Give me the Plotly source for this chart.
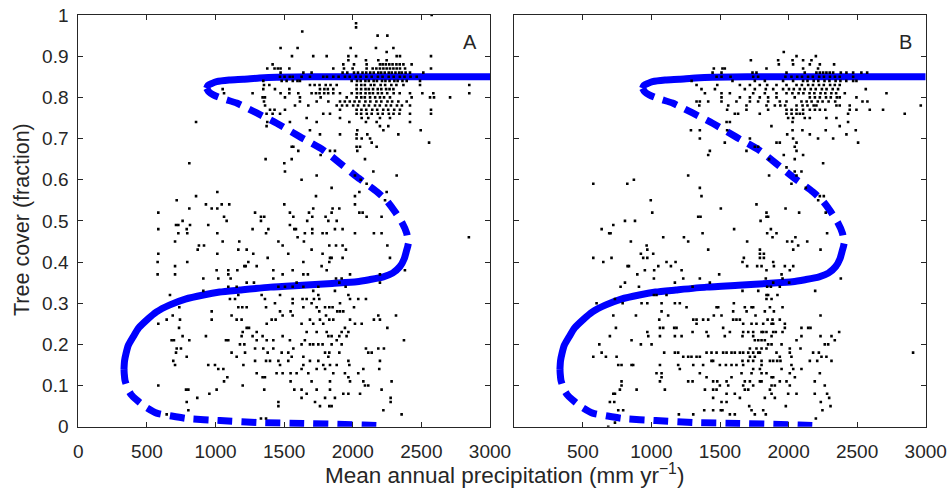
import plotly.graph_objects as go

# ---------------- model curve ----------------
# upper stable branch (forest), from the fold to the right edge
hi_stable_p = [935, 945, 975, 1008, 1100, 1203, 1320, 1446, 1700, 2000, 2500, 3000]
hi_stable_t = [0.822, 0.829, 0.834, 0.838, 0.842, 0.844, 0.847, 0.849, 0.850, 0.850, 0.850, 0.850]
# unstable branch between forest and savanna
mid_unstable_p = [935, 950, 984, 1060, 1154, 1300, 1446, 1616, 1785, 1907, 2029, 2175, 2250, 2308, 2360, 2393, 2405]
mid_unstable_t = [0.822, 0.814, 0.806, 0.796, 0.786, 0.762, 0.737, 0.704, 0.672, 0.640, 0.607, 0.571, 0.548, 0.522, 0.495, 0.470, 0.445]
# savanna stable branch
sav_stable_p = [2405, 2400, 2393, 2375, 2344, 2290, 2223, 2120, 2029, 1850, 1664, 1400, 1178, 1030, 911, 780, 668, 570, 498, 440, 401, 365, 348, 337, 333]
sav_stable_t = [0.445, 0.437, 0.429, 0.408, 0.389, 0.373, 0.364, 0.357, 0.352, 0.348, 0.344, 0.339, 0.332, 0.327, 0.320, 0.310, 0.296, 0.279, 0.259, 0.240, 0.219, 0.198, 0.178, 0.160, 0.140]
# lower unstable branch
low_unstable_p = [333, 335, 340, 360, 385, 425, 490, 571, 680, 790, 1033, 1324, 1640, 2077, 2220]
low_unstable_t = [0.140, 0.128, 0.113, 0.092, 0.078, 0.065, 0.048, 0.033, 0.026, 0.020, 0.015, 0.010, 0.008, 0.004, 0.002]

# ---------------- observations, panel A: (tree cover, [precipitation ...]) ----------------
a_high = [
    (1.00, [2575]), (0.98, [2024]), (0.97, [2024]), (0.96, [1632]), (0.95, [2181, 2252]),
    (0.92, [1474, 1598, 1985, 2169, 2296]), (0.91, [2247]),
    (0.90, [1557, 1712, 1810, 1968, 2024, 2320, 2344, 2570]),
    (0.89, [1968, 2096, 2186, 2247]),
    (0.88, [1416, 1931, 2009, 2101, 2198, 2218, 2241, 2266, 2290, 2318, 2342, 2369, 2429]),
    (0.87, [1377, 1430, 1454, 1474, 1538, 1858, 1936, 1999, 2101, 2145, 2172, 2198, 2223, 2247, 2271, 2296, 2320, 2344, 2381, 2570]),
    (0.86, [1474, 1640, 1700, 1926, 1960, 2009, 2038, 2071, 2098, 2127, 2153, 2186, 2207, 2233, 2262, 2284, 2311, 2338, 2357, 2385, 2417, 2514]),
    (0.85, [1470, 1503, 1541, 1562, 1627, 1688, 1785, 1812, 1858, 1897, 1943, 1978, 2022, 2057, 2099, 2138, 2183, 2217, 2262, 2298, 2343, 2377, 2421, 2466]),
    (0.84, [1348, 1482, 1518, 1563, 1597, 1615, 1992, 2031, 2058, 2092, 2117, 2152, 2176, 2213, 2238, 2268, 2303, 2327, 2362, 2393, 2490]),
    (0.83, [1353, 1392, 1688, 1722, 1758, 1803, 1838, 1883, 2028, 2062, 2088, 2131, 2157, 2203, 2236, 2281, 2318, 2369, 2490, 2849]),
    (0.82, [1052, 1348, 1433, 1538, 1761, 1793, 1818, 1858, 2028, 2061, 2093, 2117, 2148, 2182, 2208, 2243, 2268, 2296]),
    (0.81, [1062, 1270, 1474, 1538, 1603, 1700, 1732, 1758, 1792, 1821, 1858, 1907, 1992, 2031, 2058, 2093, 2122, 2147, 2183, 2212, 2251, 2298, 2342, 2417, 2507, 2587, 2849]),
    (0.80, [1343, 1360, 1506, 1615, 1766, 1956, 2028, 2062, 2088, 2126, 2163, 2198, 2228, 2271, 2429, 2563, 2592, 2709]),
    (0.79, [1353, 1615, 1737, 1822, 1907, 1942, 1978, 2013, 2048, 2092, 2128, 2172, 2208, 2253, 2287, 2332, 2393]),
    (0.78, [1361, 1579, 1676, 1883, 1922, 1958, 2003, 2038, 2083, 2118, 2162, 2197, 2243, 2278, 2322, 2358, 2417]),
    (0.77, [1397, 1430, 1506, 1907, 2028, 2063, 2098, 2142, 2178, 2222, 2258, 2302, 2344, 2570]),
    (0.76, [1372, 1416, 1470, 1785, 1834, 2028, 2061, 2102, 2138, 2183, 2218, 2263, 2297, 2340, 2417, 2570]),
    (0.75, [1664, 1907, 2065, 2113, 2198, 2271]),
    (0.74, [858, 1377, 1542, 1737, 1975, 2096, 2174, 2417]),
    (0.73, [1372, 2198, 2259]), (0.72, [1688, 2033, 2223, 2495]),
    (0.71, [1761, 1907, 2028, 2106, 2332]), (0.70, [2028, 2065, 2126]),
    (0.69, [2138, 2556]), (0.68, [1555, 1567, 2028, 2053, 2174]),
    (0.67, [1603, 1834, 1870, 2033]), (0.66, [1766]), (0.65, [1365, 1555, 2089]),
    (0.64, [809, 1501]), (0.62, [1506, 2150]), (0.61, [1737, 2016, 2320]),
    (0.60, [1627, 2058]), (0.59, [2101]), (0.58, [1846]), (0.56, [2016]),
]
a_low = [
    (0.57, [1013, 2048, 2247]), (0.56, [858, 1732]), (0.55, [717, 2235]),
    (0.54, [930, 1045, 1100, 1501, 2016]), (0.53, [809, 972, 1013, 1712, 1853, 1902]),
    (0.52, [583, 1288, 1542, 1681, 1846, 2048, 2072]),
    (0.51, [1062, 1331, 1355, 1567, 1705, 1802, 2101, 2210]),
    (0.50, [760, 1081, 1331, 1668, 1822, 1883]), (0.49, [712, 729, 814, 947, 1542]),
    (0.48, [583, 790, 1270, 1385, 1574, 1586, 1705, 1870, 1926]),
    (0.47, [729, 794, 1013, 1368, 1651, 1705, 1780, 1810, 2016, 2154, 2210]),
    (0.46, [1598, 2846]), (0.45, [705, 1052, 1173, 1458, 1644]),
    (0.44, [879, 916, 1489, 1829, 1878, 1926, 2252]), (0.43, [870, 1166, 1227, 1700, 1950]),
    (0.42, [583, 1013, 1275, 1530, 1780]), (0.41, [1380, 1834, 1846, 1926, 2271]),
    (0.40, [578, 794, 1239, 1640, 1829]), (0.39, [705, 1210, 1220, 1300, 1773]),
    (0.38, [1008, 1093, 1159, 1421, 1562, 1810, 2380]),
    (0.37, [578, 705, 1093, 1489, 1640, 1673, 1980, 2198]),
    (0.36, [911, 1020, 1110, 1421, 1878, 1919]), (0.35, [1227, 1280, 1591, 1902, 2198]),
    (0.34, [1093, 1154, 1458, 1506, 1562, 1640, 1749, 1948]), (0.33, [911, 1712, 1870]),
    (0.32, [668, 1166, 1336, 1470, 1749, 1968]),
    (0.31, [1105, 1142, 1360, 1562, 1634, 1664, 1717, 1756, 1980, 2040, 2096]),
    (0.30, [1433, 1562, 1700, 1907]),
    (0.29, [736, 1166, 1195, 1227, 1368, 1640, 1737, 1798, 1829, 1853, 2009]),
    (0.28, [972, 1470, 1547, 1756, 1887, 1907, 1931]),
    (0.27, [688, 1117, 1489, 1562, 1805, 2186, 2315]),
    (0.26, [644, 741, 972, 1154, 1190, 1409, 1438, 1688, 1761, 1829, 1858, 1980, 2154, 2198]),
    (0.25, [583, 1373, 1627, 1712, 1785, 2016, 2065]), (0.24, [734, 1227, 1244, 1943, 2252]),
    (0.23, [1198, 1300, 1664, 1737, 1810, 1919, 1968]),
    (0.22, [760, 930, 1190, 1270, 1343, 1489, 1822, 1846, 1902, 1955]),
    (0.21, [680, 697, 809, 1076, 1093, 1300, 1373, 1421, 1542, 1651, 1883, 2373]),
    (0.20, [1178, 1210, 1627, 1688, 1712, 1749, 1780, 1846, 1919]),
    (0.19, [717, 748, 1288, 1348, 1421, 1567, 2096, 2186, 2227]),
    (0.18, [712, 1117, 1215, 1380, 1482, 1530, 1798, 1829, 1902, 2113, 2138]),
    (0.17, [790, 1154, 1555, 1640, 1822]),
    (0.16, [692, 1288, 1368, 1397, 1458, 1530, 1688, 1749, 1968, 2198]),
    (0.15, [705, 947, 996, 1203, 1470, 1640, 1785, 1834, 1883, 1975]),
    (0.14, [1020, 1057, 1627, 1737, 1798, 2077, 2193]),
    (0.13, [1300, 1445, 1489, 1547, 1591, 1676, 1858, 1943, 2040]),
    (0.12, [1086, 1343, 1360, 1968]), (0.11, [1062, 1547, 1700, 1834, 1980, 2077, 2283]),
    (0.10, [583, 1198, 2089, 2113]),
    (0.09, [785, 802, 1008, 1355, 1574, 1627, 1737, 1834, 2210]),
    (0.08, [955, 1664, 1931, 1968, 2053]), (0.07, [867, 1627, 1798, 1870, 2276]),
    (0.06, [790, 1458, 1725, 2276]), (0.05, [1458, 1761, 1829, 1846]),
    (0.04, [802, 2223]), (0.03, [644, 2356]), (0.02, [1331, 1368]),
]

# ---------------- observations, panel B ----------------
b_high = [
    (0.91, [1965]), (0.90, [2058, 2199]), (0.89, [1725, 1924, 2029, 2106, 2167]),
    (0.88, [1929, 2033, 2155, 2228, 2332]), (0.87, [1455, 1518, 1535, 1839, 2106, 2215]),
    (0.86, [1446, 1511, 1737, 1766, 1985, 2118, 2203, 2228, 2252, 2276, 2300, 2325, 2381, 2422, 2471, 2531, 2573]),
    (0.85, [1475, 1511, 1577, 1742, 1778, 1977, 2021, 2063, 2098, 2142, 2177, 2223, 2258, 2302, 2338, 2373, 2471]),
    (0.84, [1293, 1591, 1754, 1827, 1960, 2033, 2106, 2138, 2183, 2217, 2262, 2298, 2343, 2378, 2421, 2471, 2495]),
    (0.83, [1329, 1480, 1645, 1718, 1790, 1844, 1912, 1985, 2058, 2097, 2143, 2178, 2222, 2257, 2303, 2337, 2373]),
    (0.82, [1365, 1463, 1681, 1754, 1834, 1888, 1960, 2003, 2038, 2082, 2117, 2162, 2198, 2243, 2277, 2322, 2361, 2563]),
    (0.81, [1390, 1511, 1572, 1742, 1827, 1912, 1985, 2028, 2073, 2108, 2153, 2188, 2233, 2268, 2312, 2347, 2410, 2714]),
    (0.80, [1511, 1645, 1718, 1790, 1851, 1912, 2045, 2155, 2192, 2228, 2273, 2308, 2352, 2373, 2495]),
    (0.79, [1329, 1353, 1414, 1511, 1620, 1718, 1778, 1851, 1936, 1985, 2094, 2132, 2168, 2213, 2248, 2292, 2340, 2539, 2575]),
    (0.78, [1349, 1560, 1693, 1839, 1900, 1940, 1975, 2058, 2102, 2138, 2183, 2203, 2349, 2373, 2446, 2964]),
    (0.77, [1552, 1693, 1851, 1985, 2022, 2058, 2106, 2155, 2192, 2228, 2268, 2446, 2495, 2592, 2689]),
    (0.76, [1608, 1632, 1790, 1985, 2022, 2058, 2082, 2106, 2434, 2847]),
    (0.75, [1997, 2033, 2118, 2155, 2276, 2349]), (0.74, [1548, 1572, 2029, 2434]),
    (0.73, [1875, 2373]), (0.72, [1288, 1353, 1552, 2029, 2101, 2271, 2490]),
    (0.71, [1990, 2155, 2422]), (0.70, [1353, 1718, 2033, 2215, 2325]),
    (0.69, [1535, 1912, 1936, 2058, 2507]), (0.68, [1754, 1778, 2045]),
    (0.67, [1426, 1693, 2058]), (0.66, [1414, 1965, 2106]), (0.65, [1858, 2045]),
    (0.64, [2252]), (0.63, [1985]), (0.62, [2045, 2094]), (0.61, [1268, 1858, 2058]),
    (0.60, [872]), (0.59, [576, 824, 2021]), (0.58, [1353, 2126]),
]
b_low = [
    (0.56, [1365, 2228, 2257]), (0.55, [995, 2216]), (0.54, [1766]), (0.53, [1506, 1978]),
    (0.52, [1006, 1839, 2077, 2271]), (0.51, [1341, 1358, 1839, 1851]), (0.50, [807, 880, 1796]),
    (0.49, [722]), (0.48, [637, 1603, 1871]), (0.47, [692, 702, 1373, 1844, 1912, 2281]),
    (0.46, [1086, 1237, 1883, 2050]), (0.45, [850, 1268, 1698, 1990, 2026, 2136]),
    (0.44, [965, 2070]), (0.43, [970, 1414, 1791, 2034, 2233]), (0.42, [923, 1013, 1791, 1820]),
    (0.41, [576, 709, 940, 970, 1674, 1791, 1820]), (0.40, [649, 1110, 1176, 1664, 1888]),
    (0.39, [826, 836, 1050, 1142, 1698, 1771, 1803, 1893, 1973, 2034]),
    (0.38, [952, 1020, 1220, 1839, 2009]), (0.37, [897, 1494, 1949]),
    (0.36, [1018, 1232, 1353, 1834, 1956, 2381]), (0.35, [807, 1171, 1426, 1888, 2004]),
    (0.34, [775, 909, 1300, 1844, 1871, 1936]), (0.33, [1664, 1779, 2194]),
    (0.32, [1018, 1037, 1110, 1839, 1851, 1919]), (0.31, [734, 1839, 1876]),
    (0.30, [600, 790, 928, 970, 1074, 1171, 1207, 1601]),
    (0.29, [1256, 1475, 1487, 1681, 1730, 1742, 1864, 1956]),
    (0.28, [1074, 1596, 1694, 1827, 1893]), (0.27, [722, 887, 1122, 1455, 1511, 1759, 2233]),
    (0.26, [1057, 1305, 1329, 1377, 1414, 1596, 1620, 1645, 1847, 1883, 1936]),
    (0.25, [1329, 1669, 1730, 1766, 1815, 1876, 1888, 1973]),
    (0.24, [741, 1062, 1086, 1166, 1183, 1523, 1973, 2094, 2143, 2160]),
    (0.23, [970, 1300, 1402, 1572, 1669, 1706, 1742, 1803, 1815, 1839, 1888, 1907, 1956, 2369]),
    (0.22, [697, 977, 1062, 1171, 1220, 1414, 1535, 1664, 1742, 1876, 2094, 2233, 2313]),
    (0.21, [855, 1754, 1779, 1803, 1827, 2058, 2337]),
    (0.20, [620, 923, 1001, 1851, 1876, 1949, 2264, 2289]),
    (0.19, [1718, 1766, 1803, 1839, 2009, 2087]),
    (0.18, [637, 1093, 1171, 1195, 1402, 1438, 1475, 1523, 1548, 1584, 1608, 1645, 1669, 1706, 1742, 1779, 1791, 1912, 2009, 2179, 2221, 2908]),
    (0.17, [576, 668, 746, 1232, 1268, 1292, 1329, 1353, 1718, 1754, 1936, 2021, 2240, 2276]),
    (0.16, [1438, 1450, 1664, 1706, 1742, 1803, 1864, 1888, 1917, 1941, 2155, 2209, 2313]),
    (0.15, [758, 782, 855, 867, 1062, 1195, 1305, 1377, 1499, 1543, 1584, 1620, 1669, 1803, 2021]),
    (0.14, [1207, 1742, 1791, 1949, 2034, 2094]),
    (0.13, [1037, 1074, 1353, 1657, 1730, 1803, 1839, 2009, 2228]),
    (0.12, [1074, 1402, 1584, 1876, 1888, 2046]),
    (0.11, [782, 1062, 1268, 1300, 1450, 1480, 1548, 1681, 1718, 1791, 1803, 1936, 1985, 2191]),
    (0.10, [782, 1499, 1560, 1669, 1742, 1876, 1900, 2009, 2264]),
    (0.09, [770, 892, 1098, 1390, 1450, 1475, 1681, 1706, 1864]),
    (0.08, [722, 734, 1548, 1608, 1876, 1997, 2058, 2191, 2281]),
    (0.07, [1450, 1645, 1827, 1900, 2296]), (0.06, [697, 729, 1511, 1548, 2235]),
    (0.05, [1713, 1980, 2306]), (0.04, [758, 794, 1385, 1450, 1506, 1518, 1730, 1815, 2247]),
    (0.03, [1200, 1305, 1572, 1608, 1754, 1834]), (0.02, [2199]), (0.01, [734]), (0.00, [685]),
]

x_ticks = [0, 500, 1000, 1500, 2000, 2500, 3000]
x_labels_a = ["0", "500", "1000", "1500", "2000", "2500", "3000"]
x_ticks_b = [500, 1000, 1500, 2000, 2500, 3000]
x_labels_b = ["500", "1000", "1500", "2000", "2500", "3000"]
y_ticks = [0, 0.1, 0.2, 0.3, 0.4, 0.5, 0.6, 0.7, 0.8, 0.9, 1.0]
y_labels = ["0", "0.1", "0.2", "0.3", "0.4", "0.5", "0.6", "0.7", "0.8", "0.9", "1"]


def flatten(rows):
    px, ty = [], []
    for t, ps in rows:
        for p in ps:
            px.append(p)
            ty.append(t)
    return px, ty


BLUE = "#0000ff"
INK = "#262626"
FONT = "Liberation Sans, Arial, Helvetica, sans-serif"

fig = go.Figure()

branches = [
    (hi_stable_p, hi_stable_t, "solid"),
    (mid_unstable_p, mid_unstable_t, "15px,9px"),
    (sav_stable_p, sav_stable_t, "solid"),
    (low_unstable_p, low_unstable_t, "15px,9px"),
]

for xa, ya, rows in [("x", "y", a_high + a_low), ("x2", "y2", b_high + b_low)]:
    for bp, bt, dash in branches:
        fig.add_trace(go.Scatter(
            x=bp, y=bt, xaxis=xa, yaxis=ya, mode="lines",
            line=dict(color=BLUE, width=7, dash=dash, shape="spline", smoothing=0.6),
            hoverinfo="skip", showlegend=False))
    px, ty = flatten(rows)
    fig.add_trace(go.Scatter(
        x=px, y=ty, xaxis=xa, yaxis=ya, mode="markers",
        marker=dict(size=2.6, color="black", symbol="square"),
        showlegend=False))

common_axis = dict(showline=True, linecolor=INK, linewidth=1, mirror="ticks",
                   ticks="inside", ticklen=5, tickcolor=INK, showgrid=False, zeroline=False,
                   automargin=False,
                   tickfont=dict(family=FONT, size=19, color=INK))

fig.update_layout(
    width=952, height=492,
    margin=dict(l=0, r=0, t=0, b=0, pad=0, autoexpand=False),
    paper_bgcolor="white", plot_bgcolor="white",
    font=dict(family=FONT, color=INK),
    xaxis=dict(domain=[78.3 / 952, 490 / 952], range=[0, 3000], anchor="y",
               tickmode="array", tickvals=x_ticks, ticktext=x_labels_a,
               ticklabelstandoff=7, **common_axis),
    yaxis=dict(domain=[1 - 426.7 / 492, 1 - 15 / 492], range=[0, 1], anchor="x",
               tickmode="array", tickvals=y_ticks, ticktext=y_labels,
               ticklabelstandoff=5, **common_axis),
    xaxis2=dict(domain=[514.3 / 952, 925.7 / 952], range=[0, 3000], anchor="y2",
                tickmode="array", tickvals=x_ticks_b, ticktext=x_labels_b,
                ticklabelstandoff=7, **common_axis),
    yaxis2=dict(domain=[1 - 426.7 / 492, 1 - 15 / 492], range=[0, 1], anchor="x2",
                tickmode="array", tickvals=y_ticks, showticklabels=False, **common_axis),
    annotations=[
        dict(text="A", xref="paper", yref="paper", x=470 / 952, y=1 - 42 / 492,
             showarrow=False, xanchor="center", yanchor="middle",
             font=dict(family=FONT, size=20, color=INK)),
        dict(text="B", xref="paper", yref="paper", x=905 / 952, y=1 - 42 / 492,
             showarrow=False, xanchor="center", yanchor="middle",
             font=dict(family=FONT, size=20, color=INK)),
        dict(text="Tree cover (fraction)", xref="paper", yref="paper",
             x=22 / 952, y=1 - 220 / 492, textangle=-90, showarrow=False,
             xanchor="center", yanchor="middle",
             font=dict(family=FONT, size=21.5, color=INK)),
        dict(text="Mean annual precipitation (mm yr<sup>\u22121</sup>)", xref="paper", yref="paper",
             x=504 / 952, y=1 - 474 / 492, showarrow=False,
             xanchor="center", yanchor="middle",
             font=dict(family=FONT, size=22.5, color=INK)),
    ],
)

fig.write_html("out.html",
               config={"displayModeBar": False},
               post_script="document.body.style.margin='0px';document.body.style.overflow='hidden';")
